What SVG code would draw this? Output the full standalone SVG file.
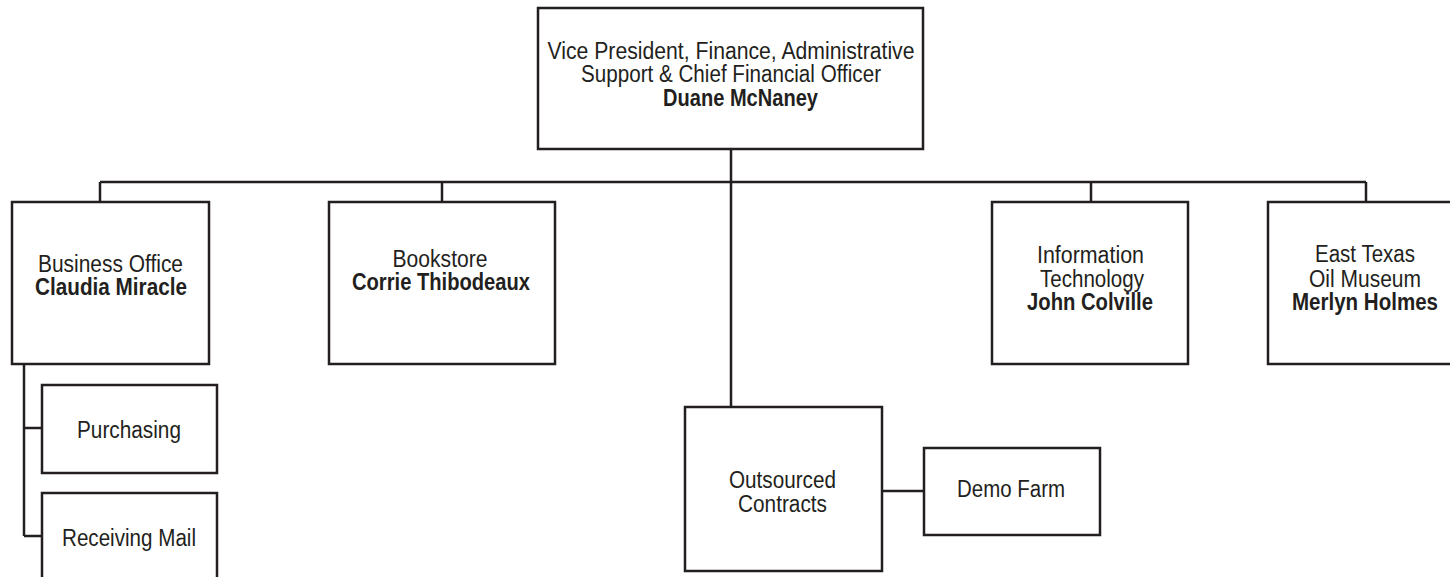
<svg xmlns="http://www.w3.org/2000/svg" width="1450" height="577" viewBox="0 0 1450 577">
<style>
.box{fill:#fff;stroke:#231f20;stroke-width:2.5}
.ln{fill:none;stroke:#231f20;stroke-width:2.5}
text{font-family:"Liberation Sans Narrow","Liberation Sans",Arial,sans-serif;font-size:23px;fill:#231f20;text-anchor:middle}
.b{font-weight:bold}
</style>
<rect width="1450" height="577" fill="#fff"/>
<g id="connectors">
<path class="ln" d="M731,150 V407"/>
<path class="ln" d="M100,182 H1366"/>
<path class="ln" d="M100,182 V202 M442,182 V202 M1091,182 V202 M1366,182 V202"/>
<path class="ln" d="M24,364 V536 M24,428 H42 M24,536 H42"/>
<path class="ln" d="M882,491 H924"/>
</g>
<g id="vp">
<rect class="box" x="538" y="8" width="385" height="141"/>
<text x="731" y="58.5" textLength="367" lengthAdjust="spacingAndGlyphs">Vice President, Finance, Administrative</text>
<text x="731" y="82" textLength="300" lengthAdjust="spacingAndGlyphs">Support &amp; Chief Financial Officer</text>
<text class="b" x="740.5" y="105.5" textLength="155" lengthAdjust="spacingAndGlyphs">Duane McNaney</text>
</g>
<g id="business-office">
<rect class="box" x="12" y="202" width="197" height="162"/>
<text x="110.5" y="272" textLength="145" lengthAdjust="spacingAndGlyphs">Business Office</text>
<text class="b" x="111" y="295" textLength="152" lengthAdjust="spacingAndGlyphs">Claudia Miracle</text>
</g>
<g id="bookstore">
<rect class="box" x="329" y="202" width="226" height="162"/>
<text x="440" y="267" textLength="95" lengthAdjust="spacingAndGlyphs">Bookstore</text>
<text class="b" x="441" y="290" textLength="178" lengthAdjust="spacingAndGlyphs">Corrie Thibodeaux</text>
</g>
<g id="it">
<rect class="box" x="992" y="202" width="196" height="162"/>
<text x="1090.5" y="263" textLength="107" lengthAdjust="spacingAndGlyphs">Information</text>
<text x="1092" y="287" textLength="104" lengthAdjust="spacingAndGlyphs">Technology</text>
<text class="b" x="1090" y="310" textLength="126" lengthAdjust="spacingAndGlyphs">John Colville</text>
</g>
<g id="museum">
<rect class="box" x="1268" y="202" width="197" height="162"/>
<text x="1365" y="262" textLength="100" lengthAdjust="spacingAndGlyphs">East Texas</text>
<text x="1365" y="287" textLength="112" lengthAdjust="spacingAndGlyphs">Oil Museum</text>
<text class="b" x="1365" y="310" textLength="146" lengthAdjust="spacingAndGlyphs">Merlyn Holmes</text>
</g>
<g id="purchasing">
<rect class="box" x="42" y="385" width="175" height="88"/>
<text x="129" y="438" textLength="104" lengthAdjust="spacingAndGlyphs">Purchasing</text>
</g>
<g id="receiving-mail">
<rect class="box" x="42" y="493" width="175" height="100"/>
<text x="129" y="545.5" textLength="134" lengthAdjust="spacingAndGlyphs">Receiving Mail</text>
</g>
<g id="outsourced">
<rect class="box" x="685" y="407" width="197" height="164"/>
<text x="782.5" y="488" textLength="107" lengthAdjust="spacingAndGlyphs">Outsourced</text>
<text x="782.5" y="512" textLength="89" lengthAdjust="spacingAndGlyphs">Contracts</text>
</g>
<g id="demo-farm">
<rect class="box" x="924" y="448" width="176" height="87"/>
<text x="1011" y="497" textLength="108" lengthAdjust="spacingAndGlyphs">Demo Farm</text>
</g>
</svg>
